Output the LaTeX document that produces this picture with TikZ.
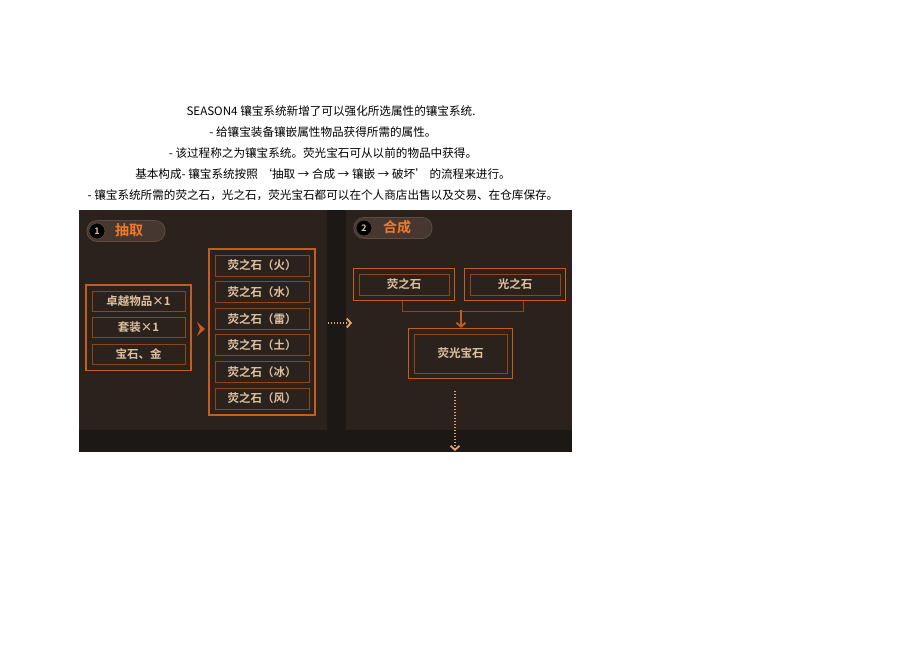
\documentclass[tikz,border=0pt]{standalone}
\usepackage{fontspec}
\usepackage{xcolor}
\usepackage{tikz}
\usetikzlibrary{arrows.meta,positioning,fit,backgrounds,calc}
\newfontfamily\cjk{Noto Sans CJK SC}[BoldFont={Noto Sans CJK SC Bold}]
\definecolor{panelbg}{HTML}{2C221D}
\definecolor{stripbg}{HTML}{1B1816}
\definecolor{pillbg}{HTML}{463830}
\definecolor{pillline}{HTML}{5E4B3F}
\definecolor{edgeout}{HTML}{C45E1F}
\definecolor{edgein}{HTML}{8E4719}
\definecolor{boxtext}{HTML}{DCC2A2}
\definecolor{titletext}{HTML}{F07A2C}
\definecolor{dotline}{HTML}{E8A468}

\begin{document}
\begin{tikzpicture}[
  x=1pt, y=-1pt,
  every node/.style = {font=\cjk},
  line/.style   = {font=\cjk\fontsize{11.6}{13}\selectfont, inner sep=0pt},
  pill/.style   = {rectangle, rounded corners=10pt, fill=pillbg, draw=pillline,
                   line width=0.8pt, minimum width=78pt, minimum height=21pt},
  num/.style    = {circle, fill=black, draw=pillline, line width=0.6pt,
                   minimum size=16pt, inner sep=0pt, text=boxtext,
                   font=\cjk\bfseries\fontsize{9}{9}\selectfont},
  title/.style  = {text=titletext, font=\cjk\bfseries\fontsize{14}{14}\selectfont},
  item/.style   = {rectangle, draw=edgein, line width=1pt, text=boxtext,
                   minimum width=93pt, minimum height=20pt, inner sep=0pt,
                   font=\cjk\bfseries\fontsize{11.5}{12}\selectfont},
  group/.style  = {rectangle, draw=edgeout, line width=1.3pt, inner sep=5.5pt},
  arr/.style    = {-{Straight Barb[length=4pt,width=9pt,line width=1.8pt]}, edgeout, line width=1.2pt},
  dotarr/.style = {-{Straight Barb[length=4pt,width=9pt,line width=1.8pt]}, dotline, line width=1.3pt,
                   dash pattern=on 1.3pt off 1.7pt}
]
\useasboundingbox[fill=white] (0,0) rectangle (920,651);

%% Header lines
\node[line] (l1) at (331,111) {SEASON4 镶宝系统新增了可以强化所选属性的镶宝系统.};
\node[line] (l2) at (323,132) {- 给镶宝装备镶嵌属性物品获得所需的属性。};
\node[line] (l3) at (323,153) {- 该过程称之为镶宝系统。荧光宝石可从以前的物品中获得。};
\node[line] (l4) at (323,174) {基本构成- 镶宝系统按照\ ‘抽取 → 合成 → 镶嵌 → 破坏’\ 的流程来进行。};
\node[line] (l5) at (323,195) {- 镶宝系统所需的荧之石，光之石，荧光宝石都可以在个人商店出售以及交易、在仓库保存。};

%% Panels
\fill[stripbg] (79,210) rectangle (572,452);
\fill[panelbg] (79,210) rectangle (327,430);
\fill[panelbg] (346,210) rectangle (572,430);

%% Step 1
\node[pill] (pill1) at (126,231) {};
\node[num] (num1) at (97,231) {1};
\node[title] (step1) at (129,230) {抽取};

\node[item] (elite) at (138.5,301)   {卓越物品×1};
\node[item] (suit)  at (138.5,327.5) {套装×1};
\node[item] (gold)  at (138.5,354.5) {宝石、金};
\node[group, fit=(elite)(gold)] (inputs) {};

\foreach \n/\t [count=\i from 0] in {fire/火, water/水, thunder/雷, earth/土, ice/冰, wind/风}
  \node[item, minimum width=94pt, minimum height=21pt] (stone-\n) at (262,265.5+26.6*\i) {荧之石（\t）};
\node[group, fit=(stone-fire)(stone-wind)] (stones) {};

\fill[edgeout] (197,322) -- (205,329) -- (197,336) -- (200,329) -- cycle;

%% Step 2
\node[pill] (pill2) at (393,228) {};
\node[num] (num2) at (364,228) {2};
\node[title] (step2) at (397,227) {合成};

\node[item, minimum width=90pt, minimum height=21pt] (fluo)  at (404,284.5) {荧之石};
\node[item, minimum width=90pt, minimum height=21pt] (light) at (515,284.5) {光之石};
\node[group, inner sep=5pt, fit=(fluo)] (fluoout) {};
\node[group, inner sep=5pt, fit=(light)] (lightout) {};

\node[item, minimum width=93pt, minimum height=39pt] (gem) at (460.5,353.5) {荧光宝石};
\node[group, inner sep=5pt, fit=(gem)] (gemout) {};

%% Connectors
\coordinate (passL) at (328,323);
\coordinate (passR) at (352,323);
\draw[dotarr] (passL) -- (passR);

\draw[edgein, line width=1pt] (fluoout.south -| 402,0) -- ++(0,10) -| (lightout.south -| 523,0);
\coordinate (join) at (461,310);
\draw[arr] (join) -- (gemout.north -| join);

\coordinate (down) at (455,451);
\draw[dotarr] ($(gemout.south -| down)+(0,12)$) -- (down);
\end{tikzpicture}
\end{document}
